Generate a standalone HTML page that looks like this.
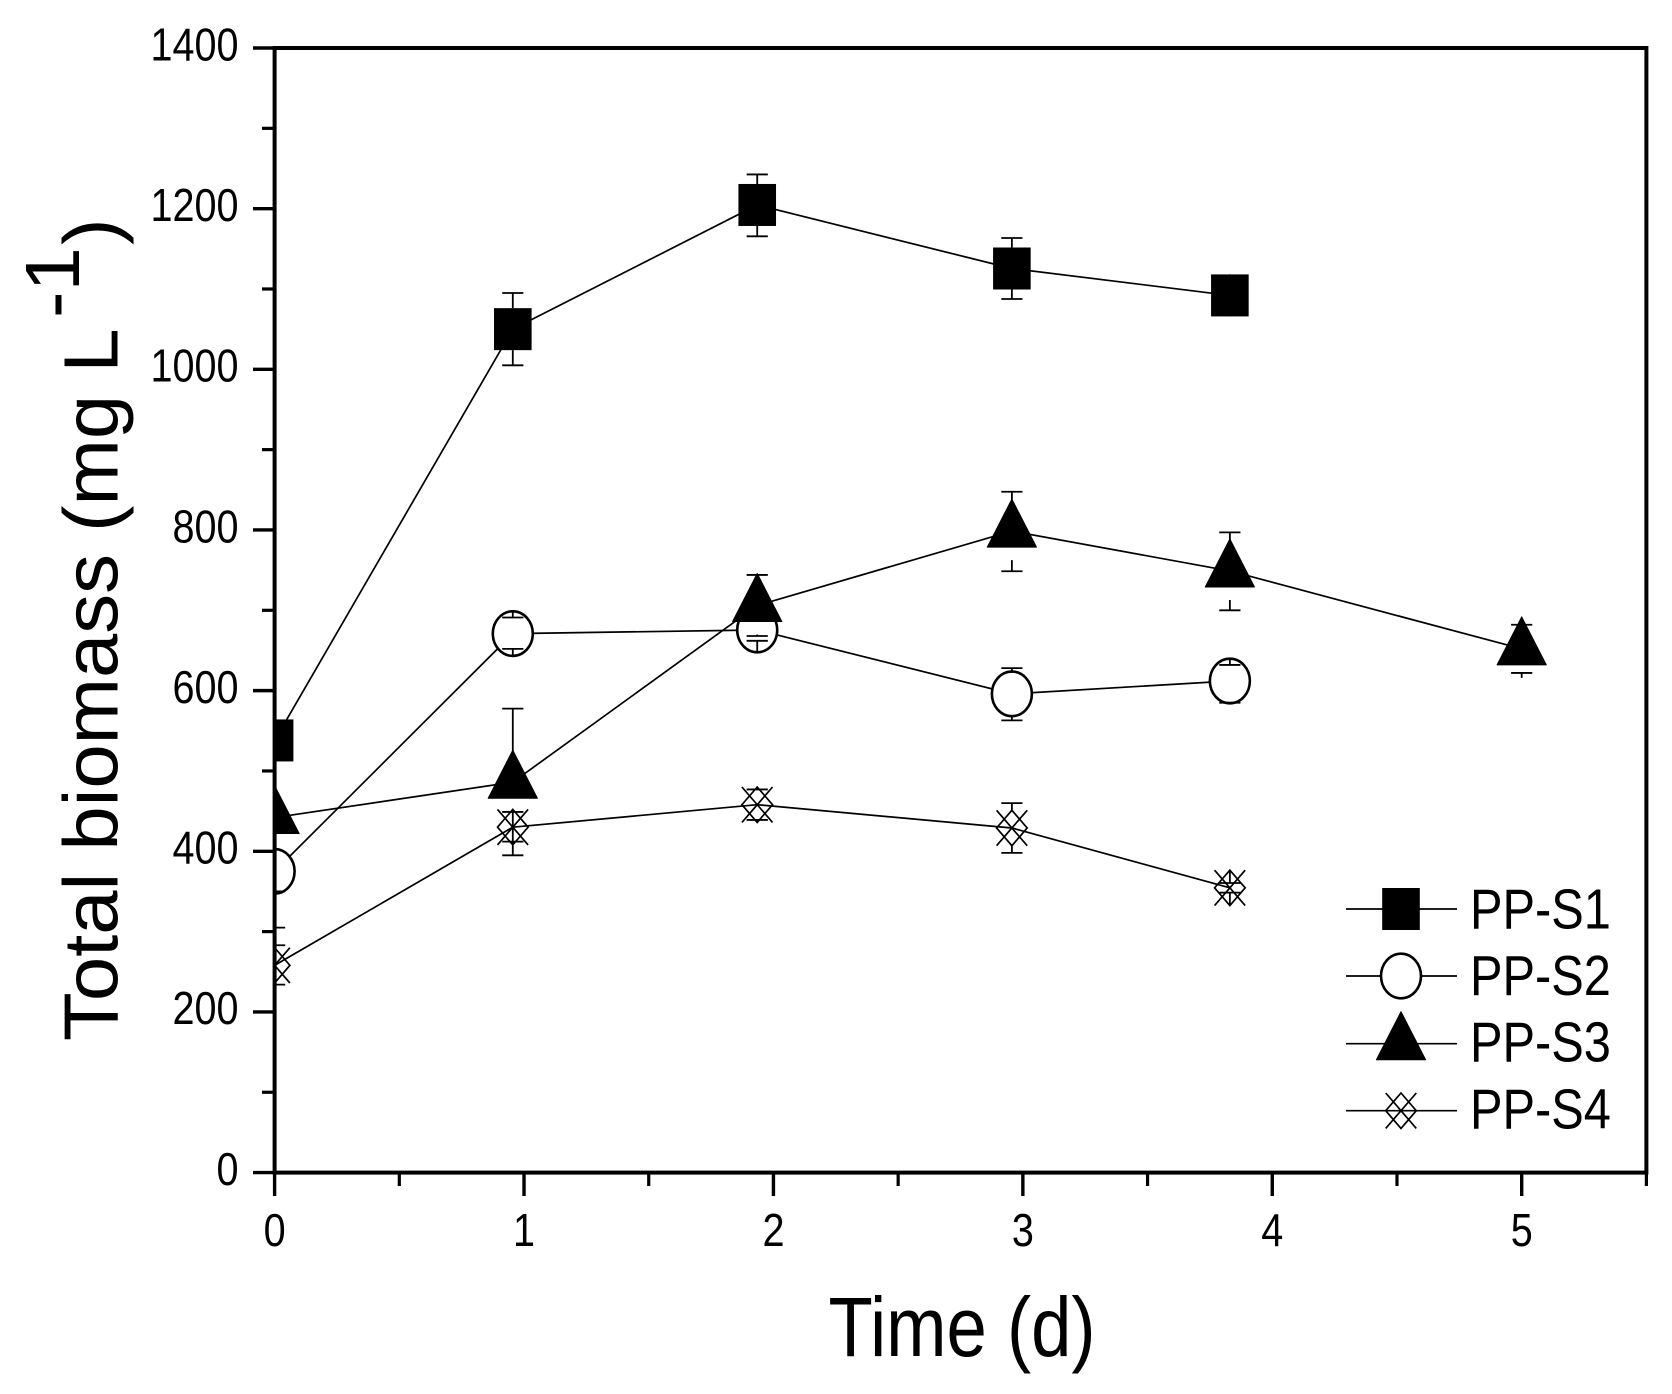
<!DOCTYPE html>
<html lang="en">
<head>
<meta charset="utf-8">
<title>Total biomass over time</title>
<style>
html,body{margin:0;padding:0;background:#fff;}
svg{display:block;}
text{font-family:"Liberation Sans",Arial,sans-serif;fill:#000;}
</style>
</head>
<body>
<svg id="chart" xmlns="http://www.w3.org/2000/svg" width="1672" height="1394" viewBox="0 0 1672 1394">
  <defs>
    <clipPath id="plot-clip"><rect x="274.6" y="40" width="1380" height="1140"></rect></clipPath>
  </defs>
  <rect x="0" y="0" width="1672" height="1394" fill="#fff"></rect>
  <g id="series-layer" clip-path="url(#plot-clip)"></g>
  <g id="axes-layer"></g>
  <g id="legend-layer"></g>

  <text font-size="84" transform="translate(828.5,1356) scale(0.863,1)">Time (d)</text>
  <text font-size="76.6" transform="translate(117.7,1041) rotate(-90) scale(1.04,1)">Total biomass (mg L</text>
  <text font-size="76.6" transform="translate(79,318) rotate(-90) scale(1.04,1)">-1</text>
  <text font-size="76.6" transform="translate(117.7,245) rotate(-90) scale(1.04,1)">)</text>
</svg>
<script>
var days = [0, 0.955, 1.935, 2.956, 3.83, 5];

var s1Values = [538, 1050, 1204.6, 1125.5, 1092];
var s1Up = [10, 45, 38, 38, 18];
var s1Down = [10, 45, 39, 38, 18];

var s2Values = [375, 671, 675.5, 596, 612];
var s2Up = [70, 20, 27, 32, 20];
var s2Down = [70, 19, 13.5, 33, 27];

var s3Values = [442, 486, 706, 798.6, 749, 652];
var s3Up = [92, 91.6, 38, 49, 48, 30];
var s3Down = [92, 91, 38, 50, 49, 30];

var s4Values = [258, 430, 458, 429, 354.5];
var s4Up = [25, 19, 19, 31, 6];
var s4Down = [24, 18, 19, 31, 6];

var seriesNames = ['PP-S1', 'PP-S2', 'PP-S3', 'PP-S4'];
var yTickLabels = ['0', '200', '400', '600', '800', '1000', '1200', '1400'];
var yMinorTicks = [100, 300, 500, 700, 900, 1100, 1300];
var xTickLabels = ['0', '1', '2', '3', '4', '5'];
var xMinorTicks = [0.5, 1.5, 2.5, 3.5, 4.5, 5.5];

var NS = 'http://www.w3.org/2000/svg';
var plot = { left: 274.6, right: 1646.4, top: 48, bottom: 1172.6, xMax: 5.5, yMax: 1400 };

function xScale(t) {
  return plot.left + (plot.right - plot.left) * t / plot.xMax;
}
function yScale(v) {
  return plot.bottom - (plot.bottom - plot.top) * v / plot.yMax;
}
function make(tag, attrs, parent) {
  var n = document.createElementNS(NS, tag);
  for (var k in attrs) { n.setAttribute(k, attrs[k]); }
  parent.appendChild(n);
  return n;
}

var seriesLayer = document.getElementById('series-layer');
var axesLayer = document.getElementById('axes-layer');
var legendLayer = document.getElementById('legend-layer');

function drawMarker(kind, cx, cy, parent, label) {
  var el;
  if (kind === 0) {
    el = make('rect', { x: cx - 18.8, y: cy - 21, width: 37.6, height: 42, fill: '#000' }, parent);
  } else if (kind === 1) {
    el = make('ellipse', { cx: cx, cy: cy, rx: 20, ry: 22.3, fill: '#fff', stroke: '#000', 'stroke-width': 2.6 }, parent);
  } else if (kind === 2) {
    el = make('polygon', {
      points: cx + ',' + (cy - 32) + ' ' + (cx + 24.6) + ',' + (cy + 16) + ' ' + (cx - 24.6) + ',' + (cy + 16),
      fill: '#000', stroke: '#000', 'stroke-width': 1, 'stroke-linejoin': 'round'
    }, parent);
  } else {
    var w = 15.3, h = 17.7;
    el = make('path', {
      d: 'M' + (cx - w) + ' ' + (cy - h) + 'L' + (cx + w) + ' ' + (cy + h) +
         'M' + (cx + w) + ' ' + (cy - h) + 'L' + (cx - w) + ' ' + (cy + h) +
         'M' + cx + ' ' + (cy - h) + 'L' + (cx + w) + ' ' + cy + 'L' + cx + ' ' + (cy + h) + 'L' + (cx - w) + ' ' + cy + 'Z',
      fill: 'none', stroke: '#000', 'stroke-width': 1.7
    }, parent);
  }
  
  
  return el;
}

var markerRadius = [21, 23, 29, 17.5];
var allValues = [s1Values, s2Values, s3Values, s4Values];
var allUp = [s1Up, s2Up, s3Up, s4Up];
var allDown = [s1Down, s2Down, s3Down, s4Down];

allValues.forEach(function (values, si) {
  var key = seriesNames[si].toLowerCase();
  var g = make('g', {}, seriesLayer);
  
  

  var pts = values.map(function (v, i) { return xScale(days[i]) + ',' + yScale(v); }).join(' ');
  var line = make('polyline', { points: pts, fill: 'none', stroke: '#000', 'stroke-width': 1.7 }, g);
  
  

  values.forEach(function (v, i) {
    var cx = xScale(days[i]);
    var cy = yScale(v);
    drawMarker(si, cx, cy, g, 'marker-' + key + '-' + i);
    var R = markerRadius[si];
    var capUp = yScale(v + allUp[si][i]);
    var capDown = yScale(v - allDown[si][i]);
    var err = make('path', {
      d: 'M' + cx + ' ' + (cy - R) + 'L' + cx + ' ' + capUp +
         'M' + (cx - 10.6) + ' ' + capUp + 'L' + (cx + 10.6) + ' ' + capUp +
         'M' + cx + ' ' + (cy + R) + 'L' + cx + ' ' + capDown +
         'M' + (cx - 10.6) + ' ' + capDown + 'L' + (cx + 10.6) + ' ' + capDown,
      fill: 'none', stroke: '#000', 'stroke-width': 1.8
    }, g);
    
    
  });
});

var frame = make('rect', {
  x: plot.left, y: plot.top, width: plot.right - plot.left, height: plot.bottom - plot.top,
  fill: 'none', stroke: '#000', 'stroke-width': 4
}, axesLayer);



yTickLabels.forEach(function (label) {
  var y = yScale(parseFloat(label));
  var tick = make('line', { x1: 253, x2: plot.left, y1: y, y2: y, stroke: '#000', 'stroke-width': 3.4 }, axesLayer);
  
  
  var text = make('text', {
    'font-size': 46, 'text-anchor': 'end',
    transform: 'translate(238.5,' + (y + 12.3) + ') scale(0.86,1)'
  }, axesLayer);
  text.textContent = label;
  
  
});
yMinorTicks.forEach(function (v) {
  var y = yScale(v);
  var tick = make('line', { x1: 262, x2: plot.left, y1: y, y2: y, stroke: '#000', 'stroke-width': 3.2 }, axesLayer);
  
  
});
xTickLabels.forEach(function (label) {
  var x = xScale(parseFloat(label));
  var tick = make('line', { x1: x, x2: x, y1: plot.bottom, y2: 1196, stroke: '#000', 'stroke-width': 3.4 }, axesLayer);
  
  
  var text = make('text', {
    'font-size': 46, 'text-anchor': 'middle',
    transform: 'translate(' + x + ',1246) scale(0.86,1)'
  }, axesLayer);
  text.textContent = label;
  
  
});
xMinorTicks.forEach(function (t) {
  var x = xScale(t);
  var tick = make('line', { x1: x, x2: x, y1: plot.bottom, y2: 1186, stroke: '#000', 'stroke-width': 3.2 }, axesLayer);
  
  
});

var legendLineY = [909, 976, 1043.7, 1110.7];
var legendBaseY = [928.3, 995, 1061.7, 1128.3];
seriesNames.forEach(function (name, i) {
  var key = name.toLowerCase();
  var entry = make('g', {}, legendLayer);
  
  
  var ln = make('line', { x1: 1346, x2: 1457, y1: legendLineY[i], y2: legendLineY[i], stroke: '#000', 'stroke-width': 1.7 }, entry);
  
  
  drawMarker(i, 1401, legendLineY[i], entry, 'legend-marker-' + key);
  var text = make('text', {
    'font-size': 56.7,
    transform: 'translate(1470,' + legendBaseY[i] + ') scale(0.86,1)'
  }, entry);
  text.textContent = name;
  
  
});
</script>
</body>
</html>
